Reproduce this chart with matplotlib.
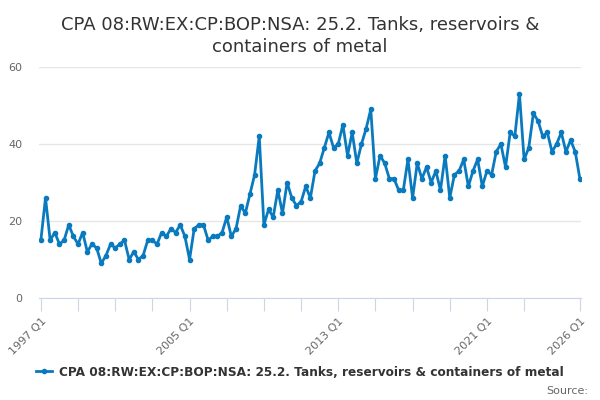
import matplotlib
matplotlib.use("Agg")
import matplotlib.pyplot as plt
import numpy as np

title = "CPA 08:RW:EX:CP:BOP:NSA: 25.2. Tanks, reservoirs &\ncontainers of metal"
series_name = "CPA 08:RW:EX:CP:BOP:NSA: 25.2. Tanks, reservoirs & containers of metal"

# quarterly, 1997 Q1 .. 2026 Q1
start_year = 1997
values = [
    15, 26, 15, 17, 14, 15, 19, 16, 14, 17, 12, 14, 13, 9, 11, 14, 13, 14, 15, 10,
    12, 10, 11, 15, 15, 14, 17, 16, 18, 17, 19, 16, 10, 18, 19, 19, 15, 16, 16,
    17, 21, 16, 18, 24, 22, 27, 32, 42, 19, 23, 21, 28, 22, 30, 26, 24, 25, 29, 26,
    33, 35, 39, 43, 39, 40, 45, 37, 43, 35, 40, 44, 49, 31, 37, 35, 31, 31, 28,
    28, 36, 26, 35, 31, 34, 30, 33, 28, 37, 26, 32, 33, 36, 29, 33, 36, 29, 33, 32,
    38, 40, 34, 43, 42, 53, 36, 39, 48, 46, 42, 43, 38, 40, 43, 38, 41, 38, 31,
]
labels = [f"{start_year + i // 4} Q{i % 4 + 1}" for i in range(len(values))]
tick_idx = list(range(0, 105, 8)) + [116]
label_idx = [0, 32, 64, 96, 116]

line_col = "#0a7abf"
text_col = "#333333"
axis_col = "#ccd6eb"

fig = plt.figure(figsize=(6, 4), dpi=100)
ax = fig.add_axes([0.065, 0.255, 0.903, 0.5775])

x = np.arange(len(values))
ax.plot(x, values, color=line_col, lw=2, marker="o", ms=3, label=series_name)

ax.set_ylim(0, 60)
ax.set_yticks([0, 20, 40, 60])
ax.set_xlim(-0.4, len(values) - 0.8)
ax.grid(axis="y", color="#e6e6e6", lw=1)
ax.set_axisbelow(True)
for s in ["top", "right", "left"]:
    ax.spines[s].set_visible(False)
ax.spines["bottom"].set_color(axis_col)
ax.tick_params(axis="y", length=0, pad=12, labelsize=8, labelcolor="#666666")

ax.set_xticks(tick_idx)
ax.set_xticklabels([labels[i] if i in label_idx else "" for i in tick_idx],
                   rotation=45, ha="right", rotation_mode="anchor")
ax.tick_params(axis="x", length=9, color=axis_col, labelsize=8,
               labelcolor="#666666", pad=4)

fig.text(0.5, 0.91, title, ha="center", va="center", fontsize=13,
         color=text_col, linespacing=1.25)

fig.legend(loc="center", bbox_to_anchor=(0.5, 0.07), frameon=False,
           prop={"size": 8.7, "weight": "bold"}, labelcolor=text_col,
           handlelength=1.3, handletextpad=0.6)
fig.text(0.98, 0.022, "Source:", ha="right", va="center", fontsize=8,
         color="#666666")

fig.savefig("out.png", dpi=100)
